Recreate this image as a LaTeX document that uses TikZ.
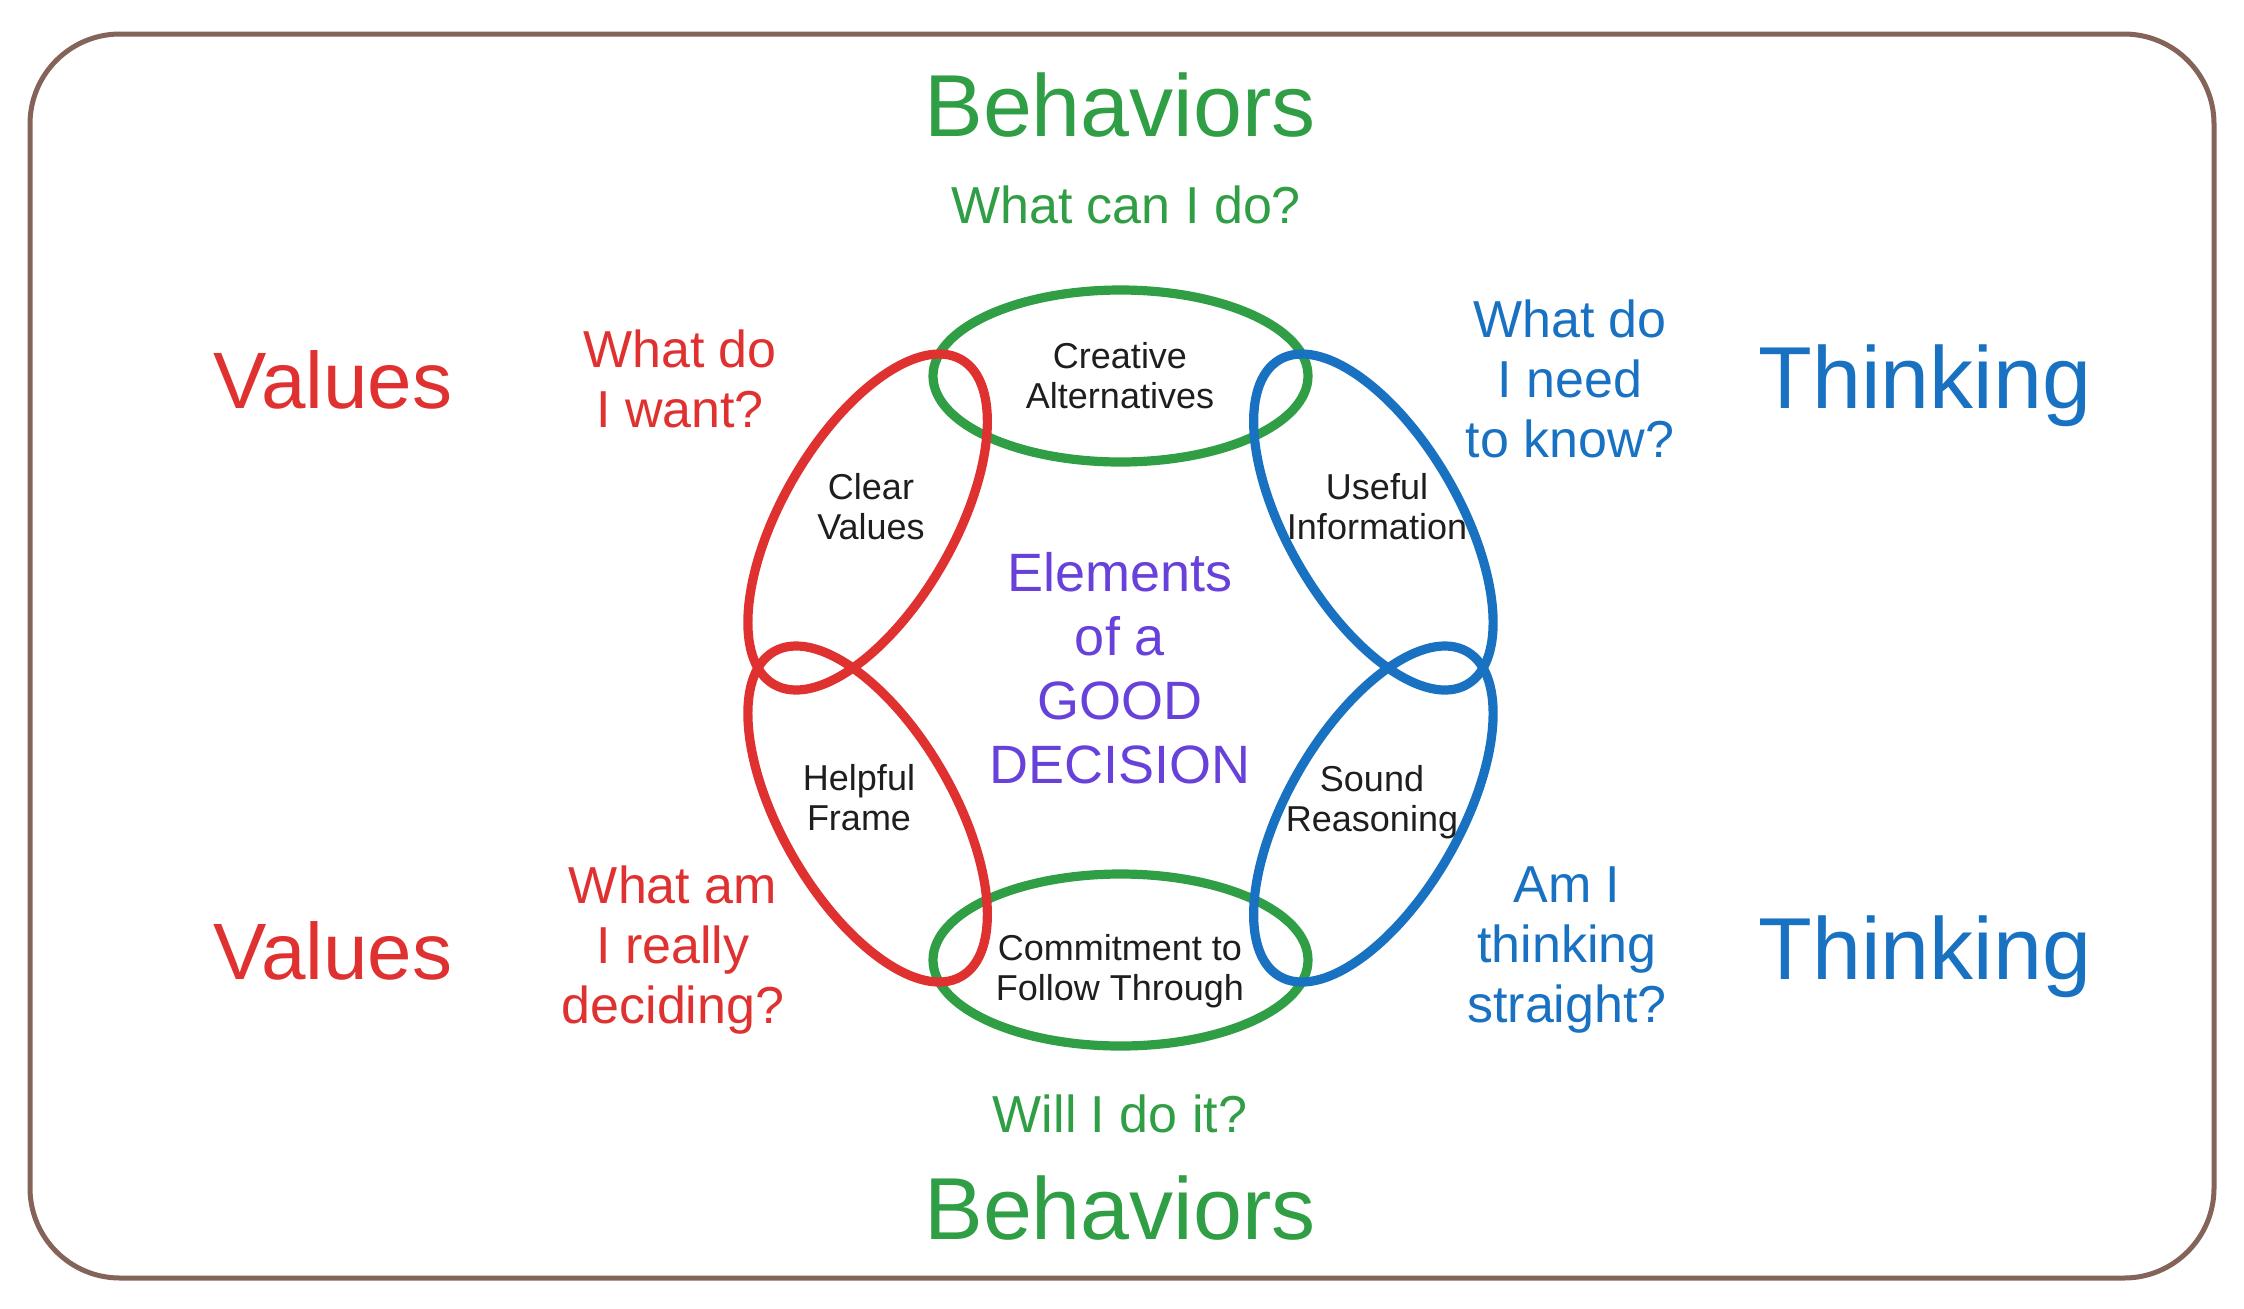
\documentclass[tikz,border=0pt]{standalone}
\usepackage{fontspec}
\setmainfont{Liberation Sans}
\usepackage{tikz}

\definecolor{frameline}{HTML}{846358}
\definecolor{goodgreen}{HTML}{2F9E44}
\definecolor{valred}{HTML}{E03131}
\definecolor{thinkblue}{HTML}{1971C2}
\definecolor{corepurple}{HTML}{6741D9}
\definecolor{ink}{HTML}{1E1E1E}

\begin{document}
\begin{tikzpicture}[
  x=0.5pt, y=-0.5pt,
  frame/.style={draw=frameline, line width=2.5pt, rounded corners=45pt},
  ring/.style={line width=4.6pt},
  heading/.style={anchor=base, font=\fontsize{44}{50}\selectfont},
  ask/.style={align=center, font=\fontsize{26}{30}\selectfont},
  element/.style={align=center, text=ink, font=\fontsize{18}{20}\selectfont},
  core/.style={align=center, text=corepurple, font=\fontsize{27}{32}\selectfont}
]
\useasboundingbox (0,0) rectangle (2244,1308);

% Frame
\draw[frame] (30,34) rectangle (2214,1278);

% Ring of six ellipses
\foreach \ang/\col in {90/goodgreen, 270/goodgreen, 150/valred, 210/valred, 30/thinkblue, 330/thinkblue} {
  \coordinate (e\ang) at ({1120.5+292*cos(\ang)},{668-292*sin(\ang)});
  \draw[ring, draw=\col, rotate around={\ang-90:(e\ang)}] (e\ang) ellipse [x radius=187.5, y radius=86];
}

% Elements
\node[element] (creative) at (1120,376) {Creative\\Alternatives};
\node[element] (clear) at (871,507) {Clear\\Values};
\node[element] (useful) at (1377,507) {Useful\\Information};
\node[element] (helpful) at (859,798) {Helpful\\Frame};
\node[element] (sound) at (1372,802) {Sound\\Reasoning};
\node[element] (commit) at (1120,971) {Commitment to\\Follow Through};

% Centre
\node[core] (decision) at (1120,668) {Elements\\of a\\GOOD\\DECISION};

% Questions
\node[ask, anchor=base, text=goodgreen] (cando) at (1126,223) {What can I do?};
\node[ask, text=valred] (wantq) at (680,379) {What do\\I want?};
\node[ask, text=thinkblue] (knowq) at (1570,379) {What do\\I need\\to know?};
\node[ask, text=valred] (decideq) at (673,950) {What am\\I really\\deciding?};
\node[ask, text=thinkblue] (straightq) at (1567,950) {Am I\\thinking\\straight?};
\node[ask, anchor=base, text=goodgreen] (willdo) at (1120,1132) {Will I do it?};

% Headings
\node[heading, text=goodgreen] (behtop) at (1120,136) {Behaviors};
\node[heading, text=valred, font=\fontsize{40}{46}\selectfont] (valtop) at (333,408) {Values};
\node[heading, text=thinkblue] (thinktop) at (1925,408) {Thinking};
\node[heading, text=valred, font=\fontsize{40}{46}\selectfont] (valbot) at (333,979) {Values};
\node[heading, text=thinkblue] (thinkbot) at (1925,979) {Thinking};
\node[heading, text=goodgreen] (behbot) at (1120,1239) {Behaviors};
\end{tikzpicture}
\end{document}
